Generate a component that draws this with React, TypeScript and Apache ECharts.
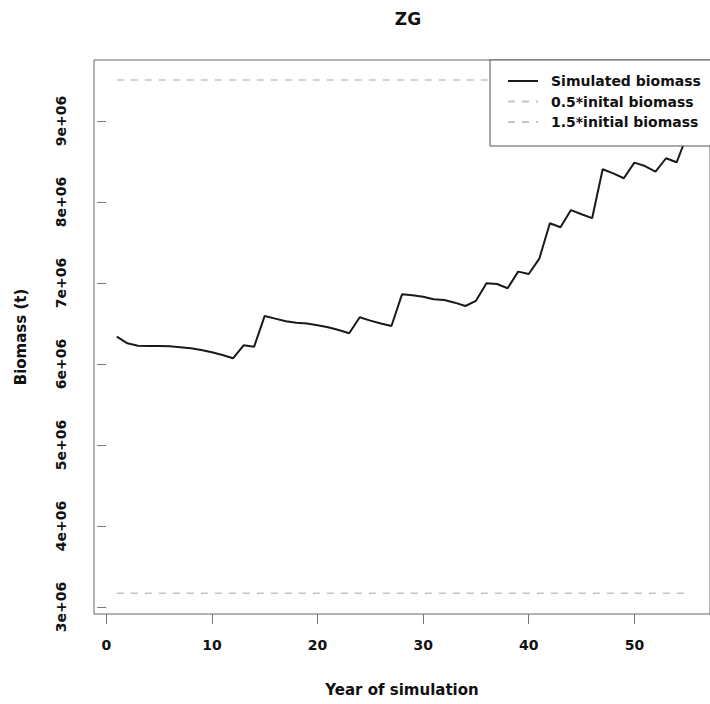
import React, { useEffect, useRef } from "react";
import * as echarts from "echarts";

const years: number[] = [
  1, 2, 3, 4, 5, 6, 7, 8, 9, 10, 11, 12, 13, 14, 15, 16, 17, 18, 19, 20,
  21, 22, 23, 24, 25, 26, 27, 28, 29, 30, 31, 32, 33, 34, 35, 36, 37, 38, 39, 40,
  41, 42, 43, 44, 45, 46, 47, 48, 49, 50, 51, 52, 53, 54, 55,
];

// simulated biomass in millions of tonnes
const biomassM: number[] = [
  6.337, 6.255, 6.226, 6.222, 6.222, 6.218, 6.206, 6.193, 6.173, 6.144,
  6.111, 6.07, 6.23, 6.214, 6.593, 6.56, 6.527, 6.51, 6.5, 6.478,
  6.453, 6.42, 6.379, 6.576, 6.535, 6.5, 6.469, 6.86, 6.848, 6.831,
  6.8, 6.79, 6.757, 6.716, 6.78, 6.996, 6.988, 6.935, 7.14, 7.111,
  7.3, 7.737, 7.688, 7.9, 7.848, 7.8, 8.404, 8.354, 8.293, 8.486,
  8.444, 8.374, 8.54, 8.49, 8.827,
];

const lowerYears: number[] = [1, 55];
const lowerValues: number[] = [3168500, 3168500];
const upperYears: number[] = [1, 55];
const upperValues: number[] = [9505500, 9505500];

const xTicks: number[] = [0, 10, 20, 30, 40, 50];
const yTicks: number[] = [3e6, 4e6, 5e6, 6e6, 7e6, 8e6, 9e6];

const seriesNames: string[] = [
  "Simulated biomass",
  "0.5*inital biomass",
  "1.5*initial biomass",
];

const FONT = "DejaVu Sans";

export default function App() {
  const ref = useRef<HTMLDivElement>(null);
  useEffect(() => {
    if (!ref.current) return;
    const chart = echarts.init(ref.current, undefined, { renderer: "svg" });
    const simData = years.map((y, i) => [y, biomassM[i] * 1e6]);
    const lowData = lowerYears.map((y, i) => [y, lowerValues[i]]);
    const upData = upperYears.map((y, i) => [y, upperValues[i]]);
    chart.setOption({
      animation: false,
      backgroundColor: "#ffffff",
      title: {
        text: "ZG",
        left: 403,
        top: 5,
        textAlign: "center",
        textStyle: {
          fontFamily: FONT,
          fontWeight: "bold",
          fontSize: 17,
          color: "#111",
        },
      },
      grid: {
        left: 94,
        right: 4,
        top: 60,
        bottom: 90,
        show: true,
        borderColor: "#666",
        borderWidth: 1,
        backgroundColor: "transparent",
      },
      legend: {
        orient: "vertical",
        left: 490,
        top: 60,
        data: seriesNames,
        itemWidth: 30,
        itemHeight: 14,
        itemGap: 6.5,
        padding: [14, 14, 17, 17],
        borderColor: "#555",
        borderWidth: 1,
        backgroundColor: "#fff",
        itemStyle: { opacity: 0 },
        textStyle: {
          fontFamily: FONT,
          fontWeight: "bold",
          fontSize: 14,
          color: "#111",
          padding: [0, 0, 0, 8],
        },
      },
      xAxis: {
        type: "value",
        min: -1.16,
        max: 57.16,
        name: "Year of simulation",
        nameLocation: "middle",
        nameGap: 68,
        nameTextStyle: {
          fontFamily: FONT,
          fontWeight: "bold",
          fontSize: 15,
          color: "#111",
        },
        axisLine: { show: false },
        axisTick: {
          show: true,
          length: 10,
          customValues: xTicks,
          lineStyle: { color: "#777" },
        },
        axisLabel: {
          customValues: xTicks,
          margin: 24,
          fontFamily: FONT,
          fontWeight: "bold",
          fontSize: 14,
          color: "#111",
        },
        splitLine: { show: false },
      },
      yAxis: {
        type: "value",
        min: 2913000,
        max: 9753000,
        name: "Biomass (t)",
        nameLocation: "middle",
        nameGap: 66,
        nameTextStyle: {
          fontFamily: FONT,
          fontWeight: "bold",
          fontSize: 15,
          color: "#111",
        },
        axisLine: { show: false },
        axisTick: {
          show: true,
          length: 9,
          customValues: yTicks,
          lineStyle: { color: "#777" },
        },
        axisLabel: {
          customValues: yTicks,
          rotate: 90,
          margin: 26,
          fontFamily: FONT,
          fontWeight: "bold",
          fontSize: 14,
          color: "#111",
          formatter: (v: number) => `${Math.round(v / 1e6)}e+06`,
        },
        splitLine: { show: false },
      },
      series: [
        {
          name: seriesNames[0],
          type: "line",
          data: simData,
          symbol: "none",
          lineStyle: { color: "#1a1a1a", width: 2 },
          itemStyle: { color: "#1a1a1a" },
          z: 3,
        },
        {
          name: seriesNames[1],
          type: "line",
          data: lowData,
          symbol: "none",
          lineStyle: { color: "#c4c4c4", width: 1.5, type: [7, 7] },
          itemStyle: { color: "#c4c4c4" },
        },
        {
          name: seriesNames[2],
          type: "line",
          data: upData,
          symbol: "none",
          lineStyle: { color: "#c4c4c4", width: 1.5, type: [7, 7] },
          itemStyle: { color: "#c4c4c4" },
        },
      ],
    });
    return () => chart.dispose();
  }, []);
  return (
    <div
      ref={ref}
      style={{ position: "fixed", left: 0, top: 0, width: 714, height: 704 }}
    />
  );
}
